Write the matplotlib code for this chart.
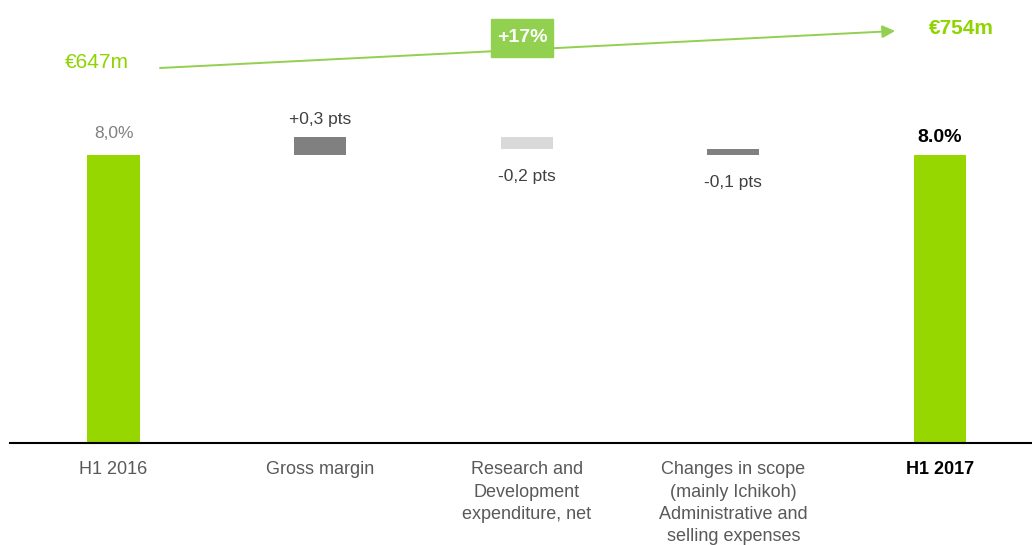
import numpy as np
import matplotlib
matplotlib.use("Agg")
import matplotlib.pyplot as plt
from matplotlib.patches import Rectangle

plt.rcParams['font.family'] = ['Liberation Sans', 'DejaVu Sans']

categories = ["H1 2016", "Gross margin", "Research and\nDevelopment\nexpenditure, net",
              "Changes in scope\n(mainly Ichikoh)\nAdministrative and\nselling expenses", "H1 2017"]
values = [8.0, 0.3, -0.2, -0.1, 8.0]
is_total = [True, False, False, False, True]
value_labels = ["8,0%", "+0,3 pts", "-0,2 pts", "-0,1 pts", "8.0%"]
bar_colors = ["#97D700", "#808080", "#D9D9D9", "#808080", "#97D700"]
sales_start = "€647m"
sales_end = "€754m"
sales_growth = "+17%"

W, H = 1032, 545
fig = plt.figure(figsize=(W / 100, H / 100), dpi=100)
ax = fig.add_axes([10 / W, 102 / H, 1022 / W, 343 / H])

# broken-looking scale: compressed below 7.5, stretched near the top
b, lo, hi = 7.5, 258 / 7.5, 60.0
def fwd(y):
    y = np.asarray(y, dtype=float)
    return np.where(y <= b, y * lo, b * lo + (y - b) * hi)
def inv(t):
    t = np.asarray(t, dtype=float)
    return np.where(t <= b * lo, t / lo, b + (t - b * lo) / hi)
ax.set_yscale('function', functions=(fwd, inv))

x = np.arange(len(categories))
bottoms = []
heights = []
run = 0.0
for v, tot in zip(values, is_total):
    if tot:
        bottoms.append(0.0)
        heights.append(v)
        run = v
    else:
        bottoms.append(run if v >= 0 else run + v)
        heights.append(abs(v))
        run += v

ax.bar(x, heights, bottom=bottoms, width=0.252, color=bar_colors, zorder=2)

for i, (lab, v, tot) in enumerate(zip(value_labels, values, is_total)):
    top = bottoms[i] + heights[i]
    if tot and i == 0:
        ax.annotate(lab, (x[i], top), xytext=(0, 22), textcoords='offset pixels',
                    ha='center', va='center', fontsize=12.5, color='#808080')
    elif tot:
        ax.annotate(lab, (x[i], top), xytext=(0, 18), textcoords='offset pixels',
                    ha='center', va='center', fontsize=14, fontweight='bold', color='black')
    elif v >= 0:
        ax.annotate(lab, (x[i], top), xytext=(0, 18), textcoords='offset pixels',
                    ha='center', va='center', fontsize=12.5, color='#404040')
    else:
        ax.annotate(lab, (x[i], bottoms[i]), xytext=(0, -27), textcoords='offset pixels',
                    ha='center', va='center', fontsize=12.5, color='#404040')

ax.set_xlim(-0.501, 4.446)
ax.set_ylim(0, 8.917)
for s in ['top', 'right', 'left']:
    ax.spines[s].set_visible(False)
ax.spines['bottom'].set_linewidth(1.5)
ax.spines['bottom'].set_color('black')
ax.set_yticks([])
ax.set_xticks(x)
ax.set_xticklabels(categories, fontsize=13, color='#595959', linespacing=1.42)
ax.tick_params(axis='x', length=0, pad=13)
tl = ax.get_xticklabels()[-1]
tl.set_fontweight('bold')
tl.set_color('black')

# sales growth arrow on top
green = "#92D050"
ax.annotate('', xy=(895, H - 31), xytext=(160, H - 68), xycoords='figure pixels',
            textcoords='figure pixels',
            arrowprops=dict(arrowstyle='-|>', color=green, lw=1.4, mutation_scale=19,
                            shrinkA=0, shrinkB=0))
fig.patches.append(Rectangle((491 / W, (H - 57) / H), 62 / W, 38 / H,
                             transform=fig.transFigure, color=green, zorder=3))
fig.text(522 / W, (H - 38) / H, sales_growth, ha='center', va='center', fontsize=14,
         fontweight='bold', color='white', zorder=4)
fig.text(97 / W, (H - 63) / H, sales_start, ha='center', va='center', fontsize=15,
         color='#8FD400')
fig.text(961 / W, (H - 28) / H, sales_end, ha='center', va='center', fontsize=15,
         fontweight='bold', color='#8FD400')

fig.savefig("out.png", dpi=100)
